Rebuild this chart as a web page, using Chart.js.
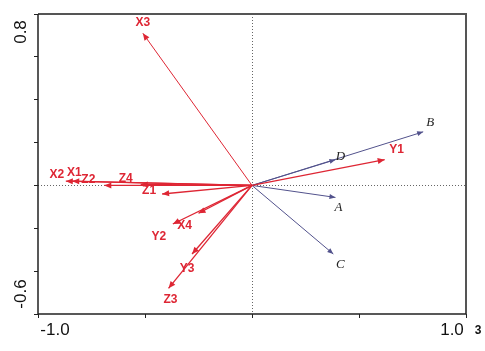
<!DOCTYPE html>
<html><head><meta charset="utf-8">
<script src="https://cdn.jsdelivr.net/npm/chart.js@4"></script>
<style>html,body{margin:0;padding:0;background:#fff}#wrap{width:485px;height:351px}</style>
</head><body><div id="wrap"><canvas id="c" width="485" height="351"></canvas></div>
<script>
// Red vectors (explanatory variables)
const redNames = ['X1','X2','X3','X4','Y1','Y2','Y3','Z1','Z2','Z3','Z4'];
const redX = [-0.84,-0.87,-0.51,-0.25,0.62,-0.37,-0.28,-0.42,-0.69,-0.39,-0.52];
const redY = [0.02,0.02,0.71,-0.13,0.12,-0.18,-0.32,-0.04,0.00,-0.48,0.005];
// Blue vectors (response variables)
const blueNames = ['A','B','C','D'];
const blueX = [0.39,0.80,0.38,0.39];
const blueY = [-0.056,0.25,-0.32,0.12];
// Tick labels
const xTickValues = [-1.0, 1.0];
const xTickTexts = ['-1.0','1.0'];
const yTickValues = [0.8, -0.6];
const yTickTexts = ['0.8','-0.6'];
const axisNote = '3';

const RED = 'rgb(222,38,52)';
const BLUE = 'rgb(82,82,140)';
// label offsets (px) from arrow tip
const labelOff = {
  X1:[2,-8], X2:[-9,-6], X3:[0,-11], X4:[-14,12], Y1:[12,-10], Y2:[-14,13], Y3:[-5,15],
  Z1:[-13,-3], Z2:[-16,-6], Z3:[2,11], Z4:[-15,-6],
  A:[3,10], B:[7,-9], C:[7,11], D:[5,-3]
};

const datasets = [];
redNames.forEach((n,i)=>datasets.push({label:n, group:'red', data:[{x:0,y:0},{x:redX[i],y:redY[i]}],
  showLine:true, borderColor:RED, borderWidth:n==='X3'?1:1.3, pointRadius:0}));
blueNames.forEach((n,i)=>datasets.push({label:n, group:'blue', data:[{x:0,y:0},{x:blueX[i],y:blueY[i]}],
  showLine:true, borderColor:BLUE, borderWidth:1, pointRadius:0}));

const decor = {
  id:'decor',
  beforeDatasetsDraw(chart){
    const {ctx, chartArea:a, scales:{x,y}} = chart;
    ctx.save();
    ctx.strokeStyle='#666'; ctx.lineWidth=1; ctx.setLineDash([1,2]);
    const x0=Math.round(x.getPixelForValue(0))+0.5, y0=Math.round(y.getPixelForValue(0))+0.5;
    ctx.beginPath(); ctx.moveTo(x0,a.top); ctx.lineTo(x0,a.bottom);
    ctx.moveTo(a.left,y0); ctx.lineTo(a.right,y0); ctx.stroke();
    ctx.restore();
  },
  afterDatasetsDraw(chart){
    const {ctx, chartArea:a, scales:{x,y}} = chart;
    ctx.save();
    // arrowheads and labels
    chart.data.datasets.forEach((ds,i)=>{
      const meta = chart.getDatasetMeta(i);
      const p0 = meta.data[0], p1 = meta.data[1];
      const ang = Math.atan2(p1.y-p0.y, p1.x-p0.x);
      const col = ds.borderColor;
      const L = ds.group==='red'?7:6, W = ds.group==='red'?3:2.5;
      ctx.fillStyle = col;
      ctx.beginPath();
      ctx.moveTo(p1.x,p1.y);
      ctx.lineTo(p1.x - L*Math.cos(ang) + W*Math.sin(ang), p1.y - L*Math.sin(ang) - W*Math.cos(ang));
      ctx.lineTo(p1.x - L*Math.cos(ang) - W*Math.sin(ang), p1.y - L*Math.sin(ang) + W*Math.cos(ang));
      ctx.closePath(); ctx.fill();
      const off = labelOff[ds.label]||[0,0];
      ctx.textAlign='center'; ctx.textBaseline='middle';
      if (ds.group==='red'){ ctx.font='bold 12px "Liberation Sans", Arial, sans-serif'; ctx.fillStyle=RED; }
      else { ctx.font='italic 13px "Liberation Serif", "Times New Roman", serif'; ctx.fillStyle='#222'; }
      ctx.fillText(ds.label, p1.x+off[0], p1.y+off[1]);
    });
    // frame
    ctx.strokeStyle='#555'; ctx.lineWidth=2;
    ctx.beginPath(); ctx.moveTo(a.left,a.top); ctx.lineTo(a.right,a.top); ctx.lineTo(a.right,a.bottom); ctx.stroke();
    ctx.strokeStyle='#222'; ctx.lineWidth=1.5;
    ctx.beginPath(); ctx.moveTo(a.left,a.top); ctx.lineTo(a.left,a.bottom); ctx.lineTo(a.right,a.bottom); ctx.stroke();
    // tick labels
    ctx.fillStyle='#111'; ctx.font='17px "Liberation Sans", Arial, sans-serif';
    ctx.textAlign='center'; ctx.textBaseline='middle';
    xTickValues.forEach((v,i)=>{
      const px = x.getPixelForValue(v) + (v<0?17:-14);
      ctx.fillText(xTickTexts[i], px, a.bottom+16);
    });
    yTickValues.forEach((v,i)=>{
      const py = y.getPixelForValue(v) + (v>0?18:-20);
      ctx.save(); ctx.translate(21, py); ctx.rotate(-Math.PI/2);
      ctx.fillText(yTickTexts[i], 0, 0); ctx.restore();
    });
    ctx.font='bold 12px "Liberation Sans", Arial, sans-serif';
    ctx.fillText(axisNote, a.right+12, a.bottom+17);
    ctx.restore();
  }
};

new Chart(document.getElementById('c'), {
  type:'scatter',
  data:{datasets},
  options:{
    responsive:false, animation:false, devicePixelRatio:1,
    layout:{padding:{left:34, top:14, right:19, bottom:33}},
    plugins:{legend:{display:false}, tooltip:{enabled:false}},
    scales:{
      x:{type:'linear', min:-1, max:1, ticks:{display:false, stepSize:0.5},
         grid:{drawOnChartArea:false, drawTicks:true, tickLength:4, color:'#222'}, border:{display:false}},
      y:{type:'linear', min:-0.6, max:0.8, ticks:{display:false, stepSize:0.2},
         grid:{drawOnChartArea:false, drawTicks:true, tickLength:4, color:'#222'}, border:{display:false}}
    }
  },
  plugins:[decor]
});
</script></body></html>
